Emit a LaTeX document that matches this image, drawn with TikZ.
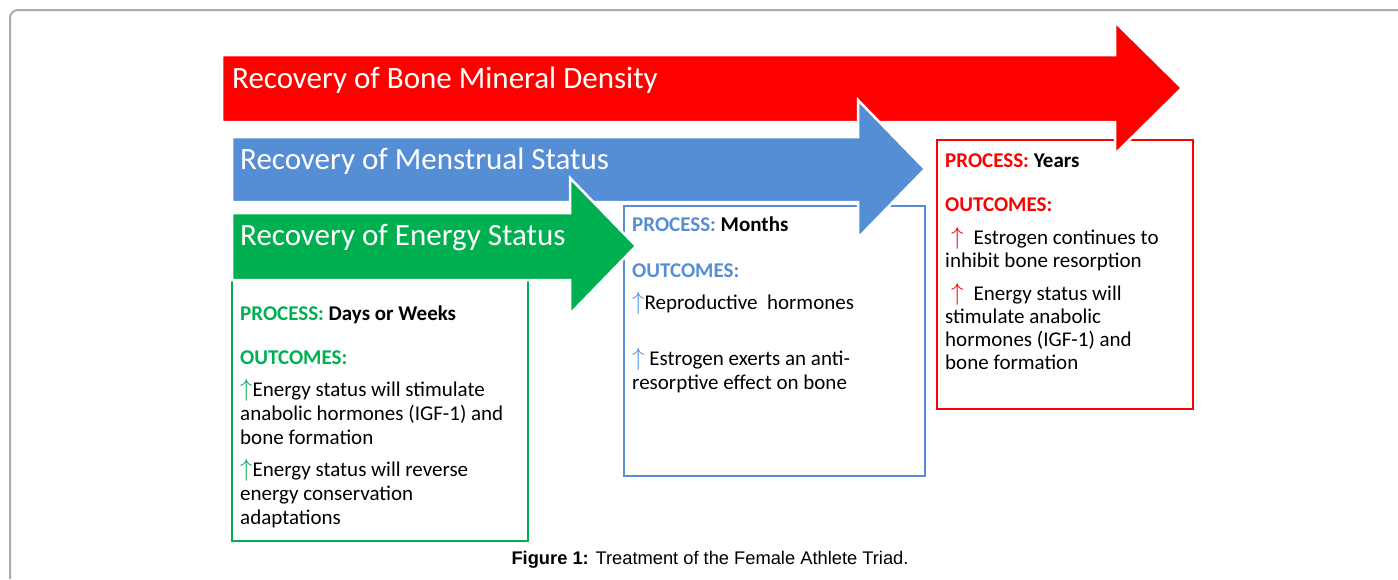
\documentclass[tikz,border=0pt]{standalone}
\usepackage{fontspec}
\setmainfont{Carlito}
\newfontfamily\capfont{Liberation Sans}
\usetikzlibrary{positioning}

\definecolor{bmdred}{HTML}{FF0000}
\definecolor{menblue}{HTML}{558ED5}
\definecolor{engreen}{HTML}{00B050}
\definecolor{framegray}{HTML}{ABABAB}
\newcommand{\upmark}[1]{\textcolor{#1}{\fontsize{27}{24}\selectfont$\uparrow$}}

\begin{document}
\begin{tikzpicture}[x=1pt, y=-1pt]
        \tikzstyle{title} = [text=white, anchor=west, inner sep=0, font=\fontsize{31}{36}\selectfont]
        \tikzstyle{stagebox} = [line width=2.6pt]
        \tikzstyle{band} = [draw=white, line width=2.5pt]
        \tikzstyle{head} = [anchor=base west, inner sep=0, font=\fontsize{21}{24}\selectfont\bfseries]
        \tikzstyle{item} = [anchor=base west, inner sep=0, align=left, font=\fontsize{21}{24}\selectfont]
        \useasboundingbox (0,0) rectangle (1398,579);
        \draw[framegray, line width=2pt, rounded corners=8pt] (10,579) -- (10,10) -- (1398,10);

        % stage boxes
        \draw[stagebox, engreen] (232,280) rectangle (528,541);
        \draw[stagebox, menblue] (624,206) rectangle (925,476);
        \draw[stagebox, bmdred] (937,140) rectangle (1193,409);

        % arrows
        \filldraw[band, fill=bmdred] (222,55) -- (1115,55) -- (1115,22) -- (1182,88) -- (1115,154) -- (1115,122) -- (222,122) -- cycle;
        \filldraw[band, fill=menblue] (232,137) -- (858,137) -- (858,100) -- (925,169) -- (858,238) -- (858,202) -- (232,202) -- cycle;
        \filldraw[band, fill=engreen] (232,213) -- (570,213) -- (570,178) -- (636,246) -- (570,314) -- (570,280) -- (232,280) -- cycle;
        \node[title](bmd) at (232,80){Recovery of Bone Mineral Density};
        \node[title](men) at (240,161){Recovery of Menstrual Status};
        \node[title](eng) at (240,238){Recovery of Energy Status};

        % energy (base = last line)
        \node[head](gproc) at (240,320){\textcolor{engreen}{PROCESS:} Days or Weeks};
        \node[head, engreen](gout) at (240,364){OUTCOMES:};
        \node[item](gitema) at (240,444){\upmark{engreen}Energy status will stimulate\\anabolic hormones (IGF-1) and\\bone formation};
        \node[item](gitemb) at (240,524){\upmark{engreen}Energy status will reverse\\energy conservation\\adaptations};

        % menstrual
        \node[head](bproc) at (632,231){\textcolor{menblue}{PROCESS:} Months};
        \node[head, menblue](bout) at (632,277){OUTCOMES:};
        \node[item](bitema) at (632,309){\upmark{menblue}Reproductive\ \ hormones};
        \node[item](bitemb) at (632,389){\upmark{menblue}\ Estrogen exerts an anti-\\resorptive\ effect on bone};

        % bone
        \node[head](rproc) at (945,167){\textcolor{bmdred}{PROCESS:} Years};
        \node[head, bmdred](rout) at (945,211){OUTCOMES:};
        \node[item, font=\fontsize{21}{23}\selectfont](ritema) at (945,267){\hspace{6pt}\upmark{bmdred}\hspace{10pt}Estrogen\ continues to\\inhibit bone resorption};
        \node[item, font=\fontsize{21}{23}\selectfont](ritemb) at (945,369){\hspace{6pt}\upmark{bmdred}\hspace{10pt}Energy status will\\stimulate anabolic\\hormones (IGF-1) and\\bone formation};

        \node[font=\capfont\fontsize{18.3}{20}\selectfont](cap) at (710,560){\textbf{Figure 1:} Treatment of the Female Athlete Triad.};
    \end{tikzpicture}
\end{document}
